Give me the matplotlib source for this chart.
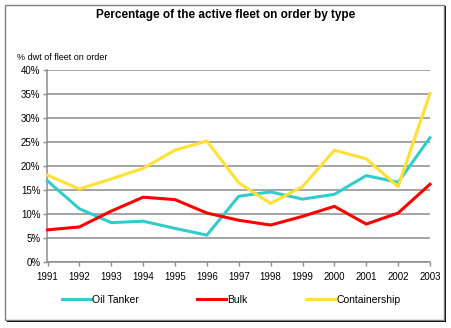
import matplotlib
matplotlib.use("Agg")
import matplotlib.pyplot as plt
from matplotlib.patches import Rectangle
from matplotlib.ticker import PercentFormatter, MultipleLocator

# data (% dwt of fleet on order)
years = list(range(1991, 2004))
oil_tanker = [16.9, 11.1, 8.2, 8.5, 7.0, 5.6, 13.7, 14.6, 13.1, 14.1, 18.0, 16.6, 25.9]
bulk = [6.7, 7.3, 10.6, 13.5, 13.0, 10.2, 8.7, 7.7, 9.5, 11.6, 7.9, 10.2, 16.2]
containership = [18.1, 15.2, 17.3, 19.5, 23.3, 25.2, 16.5, 12.2, 15.7, 23.3, 21.5, 15.7, 35.1]

plt.rcParams["font.family"] = ["Liberation Sans", "DejaVu Sans"]

W, H = 452, 328
fig = plt.figure(figsize=(W / 100, H / 100), dpi=100)
fig.patch.set_facecolor("white")

# outer chart frame with shadow
fig.patches.append(Rectangle((7 / W, 1 - 322 / H), 439 / W, 316 / H, transform=fig.transFigure,
                             facecolor="black", edgecolor="none", zorder=0))
fig.patches.append(Rectangle((5 / W, 1 - 320 / H), 439 / W, 315 / H, transform=fig.transFigure,
                             facecolor="white", edgecolor="#808080", linewidth=1, zorder=0))

ax = fig.add_axes([47.5 / W, 1 - 262 / H, (430 - 47.5) / W, (262 - 70) / H], zorder=2)
ax.set_facecolor("none")

ax.plot(years, oil_tanker, color="#33CCCC", linewidth=2.2, label="Oil Tanker", zorder=3, clip_on=False)
ax.plot(years, bulk, color="#FF0000", linewidth=2.2, label="Bulk", zorder=3, clip_on=False)
ax.plot(years, containership, color="#FFE135", linewidth=2.2, label="Containership", zorder=3, clip_on=False)

ax.set_xlim(1991, 2003)
ax.set_ylim(0, 40)
ax.set_xticks(years)
ax.yaxis.set_major_locator(MultipleLocator(5))
ax.yaxis.set_major_formatter(PercentFormatter(decimals=0))
ax.grid(axis="y", color="#8c8c8c", linewidth=1.1)
ax.set_axisbelow(True)
for s in ["top", "right"]:
    ax.spines[s].set_visible(False)
for s in ["left", "bottom"]:
    ax.spines[s].set_color("#8c8c8c")
    ax.spines[s].set_linewidth(1.1)
ax.tick_params(axis="both", colors="#8c8c8c", labelcolor="black", labelsize=7, length=3, width=1)
ax.tick_params(axis="x", pad=4)
ax.tick_params(axis="y", pad=2)

fig.text(226 / W, 1 - 15 / H, "Percentage of the active fleet on order by type",
         ha="center", va="center", fontsize=8.5, fontweight="bold", zorder=3)
fig.text(17 / W, 1 - 57 / H, "% dwt of fleet on order", ha="left", va="center", fontsize=6.5, zorder=3)

leg = fig.legend(loc="center", bbox_to_anchor=(231 / W, 1 - 300 / H), ncol=3, frameon=False,
                 fontsize=7.5, handlelength=2.8, handletextpad=0.1, columnspacing=5.6)
leg.set_zorder(3)

fig.savefig("out.png", dpi=100)
